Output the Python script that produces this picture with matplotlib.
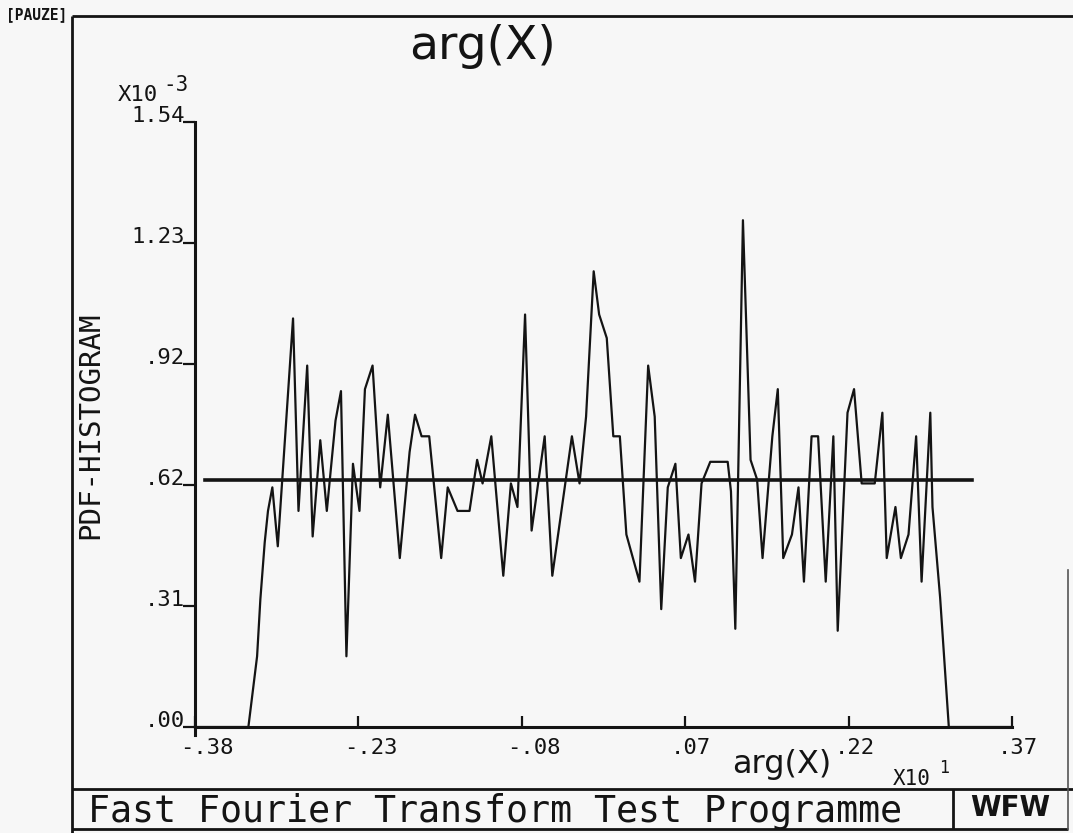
import matplotlib
matplotlib.use("Agg")
import matplotlib.pyplot as plt

# histogram of arg(X): bin positions (x10^1) and pdf heights (x10^-3)
arg_x = [-0.380, -0.331, -0.323, -0.320, -0.316, -0.313, -0.309, -0.304, -0.290,
         -0.285, -0.277, -0.272, -0.265, -0.259, -0.251, -0.246, -0.241, -0.235,
         -0.229, -0.224, -0.217, -0.210, -0.203, -0.192, -0.183, -0.178, -0.172,
         -0.165, -0.154, -0.148, -0.139, -0.128, -0.121, -0.116, -0.108, -0.097,
         -0.090, -0.084, -0.077, -0.071, -0.059, -0.052, -0.034, -0.027, -0.021,
         -0.014, -0.009, -0.002, 0.004, 0.010, 0.016, 0.028, 0.036, 0.042,
         0.048, 0.054, 0.061, 0.066, 0.073, 0.079, 0.085, 0.093, 0.109,
         0.112, 0.116, 0.123, 0.130, 0.136, 0.141, 0.150, 0.155, 0.160,
         0.168, 0.174, 0.179, 0.186, 0.192, 0.199, 0.206, 0.210, 0.219,
         0.225, 0.232, 0.244, 0.251, 0.255, 0.263, 0.268, 0.275, 0.282,
         0.287, 0.295, 0.297, 0.304, 0.312, 0.370]
pdf = [0.00, 0.00, 0.18, 0.325, 0.47, 0.55, 0.61, 0.46, 1.04,
       0.55, 0.92, 0.485, 0.73, 0.55, 0.78, 0.855, 0.18, 0.67,
       0.55, 0.86, 0.92, 0.61, 0.795, 0.43, 0.70, 0.795, 0.74,
       0.74, 0.43, 0.61, 0.55, 0.55, 0.68, 0.62, 0.74, 0.385,
       0.62, 0.56, 1.05, 0.50, 0.74, 0.385, 0.74, 0.62, 0.79,
       1.16, 1.05, 0.99, 0.74, 0.74, 0.49, 0.37, 0.92, 0.79,
       0.30, 0.61, 0.67, 0.43, 0.49, 0.37, 0.62, 0.675, 0.675,
       0.60, 0.25, 1.29, 0.68, 0.63, 0.43, 0.74, 0.86, 0.43,
       0.49, 0.61, 0.37, 0.74, 0.74, 0.37, 0.74, 0.245, 0.80,
       0.86, 0.62, 0.62, 0.80, 0.43, 0.56, 0.43, 0.49, 0.74,
       0.37, 0.80, 0.56, 0.33, 0.00, 0.00]

# theoretical uniform pdf
uniform_x = [-0.371, 0.333]
uniform_level = [0.63, 0.63]

xticks = [-0.38, -0.23, -0.08, 0.07, 0.22, 0.37]
xtick_labels = ["-.38", "-.23", "-.08", ".07", ".22", ".37"]
yticks = [0.0, 0.308, 0.616, 0.924, 1.232, 1.54]
ytick_labels = [".00", ".31", ".62", ".92", "1.23", "1.54"]

ink = "#141414"
paper = "#f7f7f7"
mono = "DejaVu Sans Mono"

W, H = 1073, 833
fig = plt.figure(figsize=(W / 100, H / 100), dpi=100)
fig.patch.set_facecolor(paper)

# overlay in pixel coordinates for the frame and the loose texts
ov = fig.add_axes([0, 0, 1, 1])
ov.set_xlim(0, W)
ov.set_ylim(H, 0)
ov.axis("off")

# main plot
ax = fig.add_axes([195 / W, 1 - 727 / H, 817 / W, (727 - 122) / H])
ax.set_facecolor("none")
ax.plot(arg_x, pdf, color=ink, lw=1.6, clip_on=False, zorder=3)
ax.plot(uniform_x, uniform_level, color=ink, lw=2.6, zorder=2)
ax.set_xlim(xticks[0], xticks[-1])
ax.set_ylim(yticks[0], yticks[-1])

for s in ["top", "right"]:
    ax.spines[s].set_visible(False)
for s in ["left", "bottom"]:
    ax.spines[s].set_linewidth(2.2)
    ax.spines[s].set_color(ink)

ax.set_xticks(xticks)
ax.set_yticks(yticks)
ax.tick_params(axis="x", direction="in", length=8, width=1.6, color=ink,
               labelbottom=False)
ax.tick_params(axis="y", direction="out", length=9, width=1.6, color=ink,
               labelleft=False)
# small downward tick at the origin
ax.plot([xticks[0], xticks[0]], [0, -0.02], color=ink, lw=2.2, clip_on=False)

for x, lab in zip(xticks, xtick_labels):
    off = 0.011 if lab.startswith("-") else 0.0055
    ax.text(x + off, -0.034, lab, transform=ax.get_xaxis_transform(),
            ha="center", va="center", fontsize=16, family=mono, color=ink)
for y, lab in zip(yticks, ytick_labels):
    ax.text(-0.012, y, lab, transform=ax.get_yaxis_transform(),
            ha="right", va="baseline", fontsize=16, family=mono, color=ink)

# frame
fk = dict(color=ink, lw=2.0, solid_capstyle="butt")
ov.plot([72, W], [16, 16], **fk)
ov.plot([72, 72], [16, H], **fk)
ov.plot([72, W], [789, 789], **fk)
ov.plot([72, 1068], [829, 829], **fk)
ov.plot([953, 953], [789, 829], **fk)
ov.plot([1068, 1068], [570, 829], color="#555555", lw=1.2)

ov.text(6, 15, "[PAUZE]", ha="left", va="center", fontsize=10.5,
        family=mono, weight="bold", color=ink)
ov.text(483, 46, "arg(X)", ha="center", va="center", fontsize=34, color=ink)
ov.text(118, 95, "X10", ha="left", va="center", fontsize=16, family=mono, color=ink)
ov.text(163, 85, "-3", ha="left", va="center", fontsize=15, family=mono, color=ink)
ov.text(90, 425, "PDF-HISTOGRAM", ha="center", va="center", rotation=90,
        fontsize=21, family=mono, color=ink)
ov.text(782, 764, "arg(X)", ha="center", va="center", fontsize=23, color=ink)
ov.text(893, 779, "X10", ha="left", va="center", fontsize=15, family=mono, color=ink)
ov.text(939, 768, "1", ha="left", va="center", fontsize=12, family=mono, color=ink)
ov.text(88, 811, "Fast Fourier Transform Test Programme", ha="left", va="center",
        fontsize=26.4, family=mono, color=ink)
ov.text(1010, 808, "WFW", ha="center", va="center", fontsize=20,
        weight="bold", color=ink)

fig.savefig("out.png", dpi=100, facecolor=paper)
